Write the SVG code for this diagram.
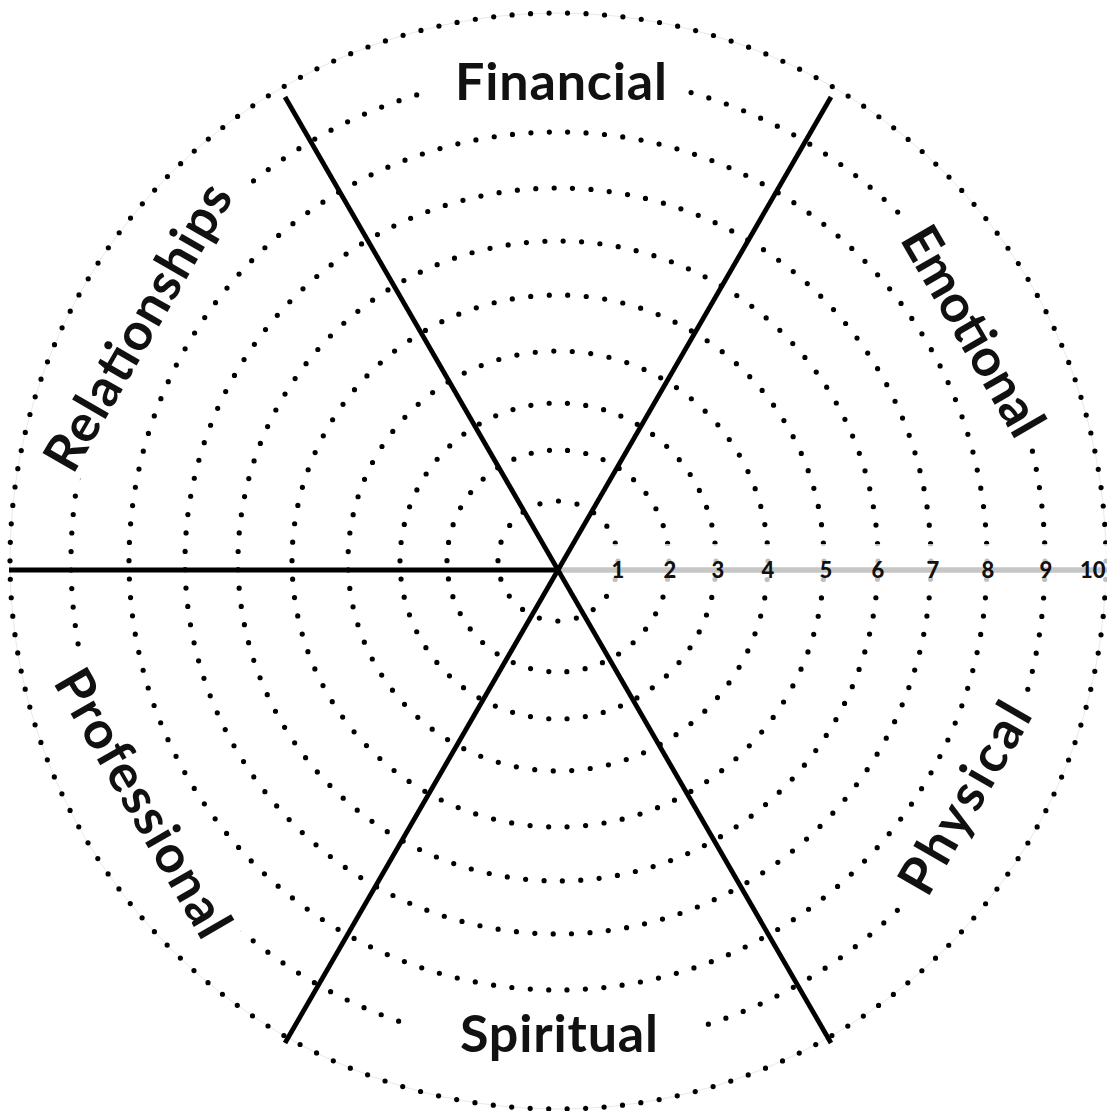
<svg xmlns="http://www.w3.org/2000/svg" width="1107" height="1111" viewBox="0 0 1107 1111">
<style>
.ring{fill:none;stroke:#000;stroke-width:5.2;stroke-linecap:round}
.lbl{font-family:Lato,"Open Sans","Liberation Sans",sans-serif;font-weight:700;font-size:52px;fill:#111;text-anchor:middle}
.num{font-family:Lato,"Open Sans","Liberation Sans",sans-serif;font-weight:900;font-size:22px;fill:#111;text-anchor:middle}
.mask{fill:#fff}
.axis{stroke:#000;stroke-width:4.8;stroke-linecap:butt}
</style>
<rect width="1107" height="1111" fill="#fff"/>
<g id="rings">
<circle cx="558" cy="561" r="548" fill="none" stroke="#d8d8d8" stroke-width="0.6"/>
<circle class="ring" cx="558" cy="561" r="60" stroke-dasharray="0 18.850"/>
<circle class="ring" cx="558" cy="561" r="111" stroke-dasharray="0 18.353"/>
<circle class="ring" cx="558" cy="561" r="158" stroke-dasharray="0 18.384"/>
<circle class="ring" cx="558" cy="561" r="210" stroke-dasharray="0 18.584"/>
<circle class="ring" cx="558" cy="561" r="266" stroke-dasharray="0 18.570"/>
<circle class="ring" cx="558" cy="561" r="320" stroke-dasharray="0 18.446"/>
<circle class="ring" cx="558" cy="561" r="373" stroke-dasharray="0 18.454"/>
<circle class="ring" cx="558" cy="561" r="429" stroke-dasharray="0 18.462"/>
<circle class="ring" cx="558" cy="561" r="487" stroke-dasharray="0 18.545"/>
<circle class="ring" cx="558" cy="561" r="548" stroke-dasharray="0 18.512"/>
</g>
<g id="scale">
<rect x="580" y="544" width="527" height="48" fill="#fff" fill-opacity="0.75"/>
<line x1="558" y1="570" x2="1107" y2="570" stroke="#c6c6c6" stroke-width="5.5"/>
<text class="num" x="618" y="578">1</text>
<text class="num" x="670" y="578">2</text>
<text class="num" x="718" y="578">3</text>
<text class="num" x="768" y="578">4</text>
<text class="num" x="826" y="578">5</text>
<text class="num" x="878" y="578">6</text>
<text class="num" x="933" y="578">7</text>
<text class="num" x="988" y="578">8</text>
<text class="num" x="1046" y="578">9</text>
<text class="num" x="1080" y="578" style="text-anchor:start">10</text>
</g>
<g id="connectors">
<line class="axis" x1="9" y1="570" x2="558" y2="570"/>
<line class="axis" x1="285" y1="97" x2="831" y2="1043"/>
<line class="axis" x1="831" y1="97" x2="285" y2="1043"/>
</g>
<g id="financial">
<rect class="mask" x="424" y="52" width="264" height="60"/>
<text class="lbl" x="561" y="100" textLength="212">Financial</text>
</g>
<g id="spiritual">
<rect class="mask" x="410" y="1005" width="292" height="60"/>
<text class="lbl" x="559" y="1052" textLength="198">Spiritual</text>
</g>
<g id="emotional" transform="translate(973 331) rotate(60)">
<rect class="mask" x="-128" y="-27" width="256" height="54"/>
<text class="lbl" x="0" y="18" textLength="233">Emotional</text>
</g>
<g id="relationships" transform="translate(138 327) rotate(-60)">
<rect class="mask" x="-170" y="-26" width="340" height="52"/>
<text class="lbl" x="0" y="18" textLength="322">Relationships</text>
</g>
<g id="physical" transform="translate(965 798) rotate(-60)">
<rect class="mask" x="-118" y="-27" width="236" height="54"/>
<text class="lbl" x="0" y="18" textLength="212">Physical</text>
</g>
<g id="professional" transform="translate(143 803) rotate(60)">
<rect class="mask" x="-160" y="-27" width="320" height="54"/>
<text class="lbl" x="0" y="18" textLength="300">Professional</text>
</g>
</svg>
